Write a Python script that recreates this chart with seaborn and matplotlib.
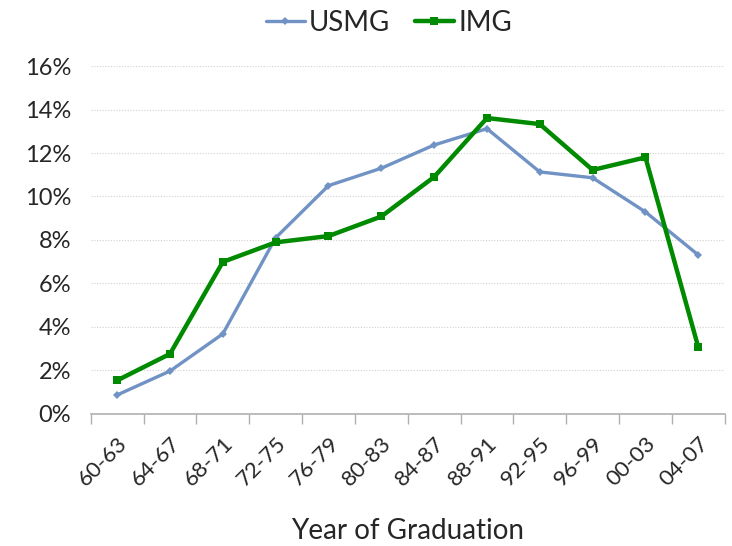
import pandas as pd
import matplotlib.pyplot as plt
import seaborn as sns
from matplotlib.ticker import PercentFormatter, FixedLocator

# Share of graduates by graduation period (%)
periods = ['60-63', '64-67', '68-71', '72-75', '76-79', '80-83',
           '84-87', '88-91', '92-95', '96-99', '00-03', '04-07']
usmg = [0.87, 1.97, 3.68, 8.1, 10.5, 11.3, 12.37, 13.12, 11.13, 10.86, 9.29, 7.31]
img = [1.54, 2.76, 6.99, 7.89, 8.18, 9.08, 10.9, 13.61, 13.33, 11.22, 11.8, 3.07]

df = pd.DataFrame({
    'period': periods * 2,
    'value': usmg + img,
    'group': ['USMG'] * len(periods) + ['IMG'] * len(periods),
})

sns.set_style('white')
plt.rcParams['font.family'] = ['Lato', 'DejaVu Sans']

fig = plt.figure(figsize=(7.32, 5.46), dpi=100)
ax = fig.add_axes([0.124, 0.242, 0.866, 0.637])

palette = {'USMG': '#7092C4', 'IMG': '#008A00'}
sns.lineplot(data=df[df.group == 'USMG'], x='period', y='value', color=palette['USMG'],
             linewidth=2.4, marker='D', markersize=4, markeredgewidth=0,
             label='USMG', ax=ax, sort=False)
sns.lineplot(data=df[df.group == 'IMG'], x='period', y='value', color=palette['IMG'],
             linewidth=3.2, marker='s', markersize=6, markeredgewidth=0,
             label='IMG', ax=ax, sort=False)

ax.set_ylim(0, 16)
ax.set_xlim(-0.5, len(periods) - 0.5)
ax.set_yticks(range(0, 17, 2))
ax.yaxis.set_major_formatter(PercentFormatter(decimals=0))
ax.grid(axis='y', color='#d0d0d0', linestyle=(0, (1, 1.5)), linewidth=0.8)
ax.grid(axis='x', visible=False)

ax.set_xticks(range(len(periods)))
ax.set_xticklabels(periods, rotation=45, ha='right', rotation_mode='anchor')
ax.xaxis.set_minor_locator(FixedLocator([i - 0.5 for i in range(len(periods) + 1)]))
ax.tick_params(axis='x', which='major', length=0, labelsize=16, pad=14)
ax.tick_params(axis='x', which='minor', length=7, color='#b0b0b0', width=1, direction='out', bottom=True)
ax.tick_params(axis='y', length=0, labelsize=17, pad=14)

for s in ['left', 'right', 'top']:
    ax.spines[s].set_visible(False)
ax.spines['bottom'].set_color('#b0b0b0')
ax.spines['bottom'].set_linewidth(1.2)

ax.set_xlabel('Year of Graduation', fontsize=20, labelpad=20)
ax.set_ylabel('')

ax.legend(loc='lower center', bbox_to_anchor=(0.47, 1.015), ncol=2, frameon=False,
          fontsize=20, handlelength=1.4, handletextpad=0.15, columnspacing=0.9)

fig.savefig('out.png', dpi=100)
